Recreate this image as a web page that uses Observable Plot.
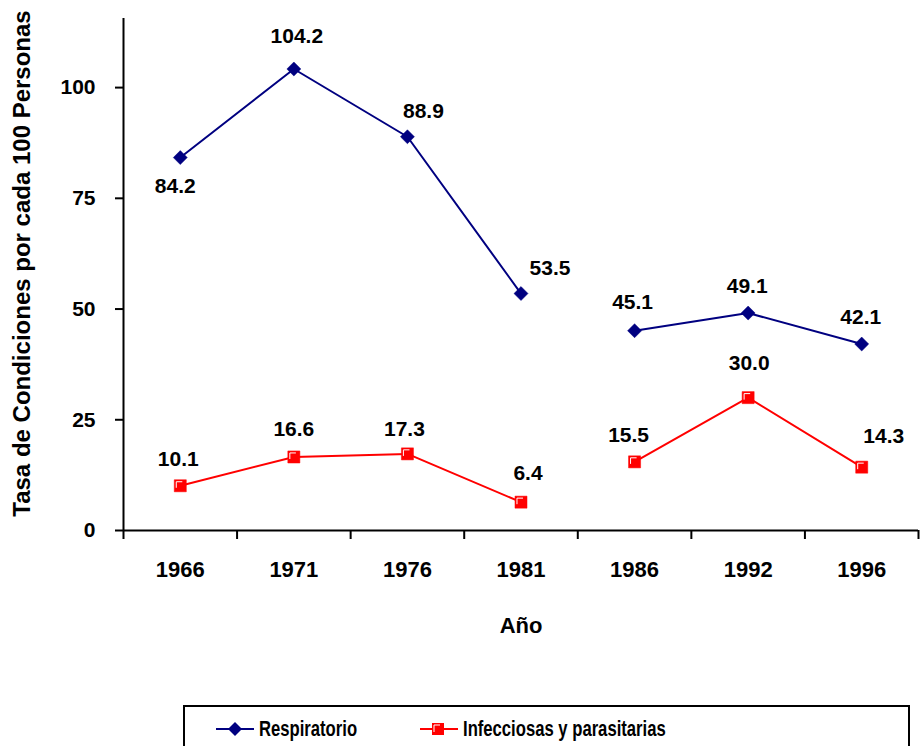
<!DOCTYPE html>
<html>
<head>
<meta charset="utf-8">
<script src="https://cdn.jsdelivr.net/npm/d3@7"></script>
<script src="https://cdn.jsdelivr.net/npm/@observablehq/plot@0.6"></script>
<style>
  html, body { margin: 0; padding: 0; background: #fff; overflow: hidden; }
  body { width: 921px; height: 746px; position: relative; font-family: "Liberation Sans", Arial, sans-serif; }
  #chart { position: absolute; left: 0; top: 0; }
  #legend { position: absolute; left: 183px; top: 705px; width: 723px; height: 45px; border: 2px solid #000; box-sizing: content-box; }
  .item { position: absolute; top: -1px; height: 45px; display: flex; align-items: center; }
  .item span { font-weight: bold; font-size: 22.5px; display: inline-block; transform: scaleX(0.74); transform-origin: left center; white-space: nowrap; color: #000; }
</style>
</head>
<body>
<div id="chart"></div>
<div id="legend">
  <div class="item" style="left:30px">
    <svg width="40" height="20"><line x1="1" y1="10" x2="39" y2="10" stroke="#000080" stroke-width="2"/><path d="M20,3 L27,10 L20,17 L13,10 Z" fill="#000080"/></svg>
    <span style="margin-left:4px">Respiratorio</span>
  </div>
  <div class="item" style="left:234px">
    <svg width="40" height="20"><line x1="1" y1="10" x2="39" y2="10" stroke="#ff0000" stroke-width="2"/><rect x="13" y="4" width="12" height="12" fill="#ff0000"/><path d="M15,13 L15,6 L21,6" fill="none" stroke="#fff" stroke-width="1"/></svg>
    <span style="margin-left:4px">Infecciosas y parasitarias</span>
  </div>
</div>
<script>
const years = ["1966", "1971", "1976", "1981", "1986", "1992", "1996"];
const respiratorio = [84.2, 104.2, 88.9, 53.5, 45.1, 49.1, 42.1];
const infecciosas = [10.1, 16.6, 17.3, 6.4, 15.5, 30.0, 14.3];
const yTicks = [0, 25, 50, 75, 100];
const yTitle = "Tasa de Condiciones por cada 100 Personas";
const xTitle = "Año";
// the line is broken between 1981 and 1986
const segment = ["a", "a", "a", "a", "b", "b", "b"];

// label offsets (pixels) — layout only
const respDx = [-5, 3, 16, 29, -2, -1, -1];
const respDy = [29, -33, -25, -25, -28, -27, -27];
const infDx = [-2, 0, -3, 7, -6, 1, 22];
const infDy = [-27, -28, -25, -29, -27, -34, -31];

const resp = years.map((y, i) => ({i, year: y, v: respiratorio[i], seg: segment[i], dx: respDx[i], dy: respDy[i]}));
const inf = years.map((y, i) => ({i, year: y, v: infecciosas[i], seg: segment[i], dx: infDx[i], dy: infDy[i]}));

const NAVY = "#000080", RED = "#ff0000";
const font = "Liberation Sans, Arial, sans-serif";

// white top-left highlight inside the red squares
const highlight = {
  draw(context, size) {
    const h = Math.sqrt(size) / 2;
    context.moveTo(-h + 2, h - 4);
    context.lineTo(-h + 2, -h + 2);
    context.lineTo(h - 4, -h + 2);
  }
};

const boundaries = d3.range(years.length + 1).map(k => k - 0.5);

const labelMarks = (data) => data.map(d =>
  Plot.text([d], {x: "i", y: "v", text: dd => dd.v.toFixed(1), dx: d.dx, dy: d.dy,
    fontSize: 21, fontWeight: "bold", fill: "#000"}));

const chart = Plot.plot({
  width: 921,
  height: 700,
  marginLeft: 123,
  marginRight: 3,
  marginTop: 18,
  marginBottom: 170,
  style: {fontFamily: font, background: "#fff", overflow: "visible"},
  x: {type: "linear", domain: [-0.5, years.length - 0.5]},
  y: {domain: [0, 115.6]},
  marks: [
    // axis lines
    Plot.ruleX([-0.5], {stroke: "#000", strokeWidth: 2}),
    Plot.ruleY([0], {stroke: "#000", strokeWidth: 2, x1: -0.5, x2: years.length - 0.5}),
    Plot.axisY({ticks: yTicks, tickSize: 8, tickPadding: 20, tickFormat: d => String(d),
      fontSize: 21, fontWeight: "bold", stroke: "#000", strokeWidth: 2, label: null, color: "#000"}),
    Plot.axisX({ticks: boundaries, tickSize: 9, tickFormat: () => "", strokeWidth: 2, label: null}),
    Plot.axisX({ticks: d3.range(years.length), tickSize: 0, tickPadding: 31, tickFormat: i => years[i],
      fontSize: 22, fontWeight: "bold", label: null, color: "#000"}),
    // y title
    Plot.text([yTitle], {frameAnchor: "left", textAnchor: "middle", dx: -101, dy: -11, rotate: -90,
      fontSize: 24, fontWeight: "bold", fill: "#000"}),
    // x title
    Plot.text([xTitle], {frameAnchor: "bottom", dy: 102, fontSize: 22, fontWeight: "bold", fill: "#000"}),
    // series lines
    Plot.line(resp, {x: "i", y: "v", z: "seg", stroke: NAVY, strokeWidth: 2}),
    Plot.line(inf, {x: "i", y: "v", z: "seg", stroke: RED, strokeWidth: 2}),
    Plot.dot(resp, {x: "i", y: "v", symbol: "diamond2", r: 6.3, fill: NAVY, stroke: NAVY, strokeWidth: 0.5}),
    Plot.dot(inf, {x: "i", y: "v", symbol: "square", r: 6.8, fill: RED, stroke: RED, strokeWidth: 0.5}),
    Plot.dot(inf, {x: "i", y: "v", symbol: highlight, r: 6.8, fill: "none", stroke: "#fff", strokeWidth: 1}),
    ...labelMarks(resp),
    ...labelMarks(inf)
  ]
});
document.getElementById("chart").appendChild(chart);
</script>
</body>
</html>
